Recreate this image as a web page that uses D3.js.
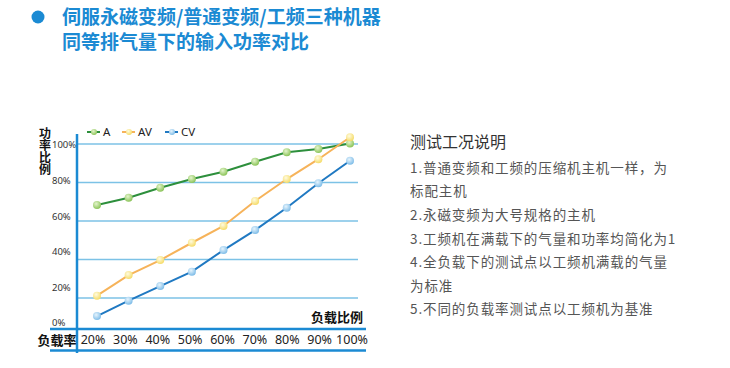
<!DOCTYPE html>
<html><head><meta charset="utf-8">
<script src="https://cdn.jsdelivr.net/npm/d3@7/dist/d3.min.js"></script>
<style>
html,body{margin:0;padding:0;background:#fff;}
svg{display:block;}
</style></head>
<body>
<svg id="c" width="730" height="368"></svg>
<script>
const categories = ["20%","30%","40%","50%","60%","70%","80%","90%","100%"];
const seriesA  = [68.3, 72.1, 77.3, 81.8, 85.6, 90.8, 95.7, 97.4, 100.3];
const seriesAV = [21.2, 31.9, 39.7, 48.7, 57.4, 70.4, 81.8, 92.1, 103.5];
const seriesCV = [10.6, 18.6, 26.2, 33.7, 44.9, 55.3, 66.9, 79.6, 91.3];
const seriesNames = ["A","AV","CV"];
const yTicks = [0,20,40,60,80,100];
const titleLines = ["伺服永磁变频/普通变频/工频三种机器","同等排气量下的输入功率对比"];
const yTitle = "功率比例";
const noteTitle = "测试工况说明";
const noteLines = ["1.普通变频和工频的压缩机主机一样，为","标配主机","2.永磁变频为大号规格的主机","3.工频机在满载下的气量和功率均简化为1","4.全负载下的测试点以工频机满载的气量","为标准","5.不同的负载率测试点以工频机为基准"];

const svg = d3.select("#c");
const blue = "#1b8ad3";
const grid = "#7cc2e6";
const colors = {A:{line:"#2d8f3c", hi:"#e4f5cc", lo:"#8cc45a"},
                AV:{line:"#f6b35a", hi:"#fffbe0", lo:"#f5dc6a"},
                CV:{line:"#2079c2", hi:"#e6f4fd", lo:"#7fbde8"}};
const data = {A:seriesA, AV:seriesAV, CV:seriesCV};

// gradients
const defs = svg.append("defs");
seriesNames.forEach(n=>{
  const g = defs.append("radialGradient").attr("id","g"+n).attr("cx","40%").attr("cy","35%").attr("r","65%");
  g.append("stop").attr("offset","0%").attr("stop-color",colors[n].hi);
  g.append("stop").attr("offset","100%").attr("stop-color",colors[n].lo);
});

// title
svg.append("circle").attr("cx",38).attr("cy",17).attr("r",6.5).attr("fill",blue);
svg.selectAll("text.title").data(titleLines).join("text")
  .attr("class","title").attr("x",62).attr("y",(d,i)=>24+i*25)
  .attr("font-family","'Noto Sans CJK SC'").attr("font-weight","bold")
  .attr("font-size",19).attr("fill",blue).text(d=>d);

// scales
const x = d3.scalePoint().domain(categories).range([97,350]);
const xLab = d3.scalePoint().domain(categories).range([93,352]);
const y = d3.scaleLinear().domain([0,100]).range([336.5,144]);
const yLab = d3.scaleLinear().domain([0,100]).range([323,145]);

// gridlines
svg.append("g").selectAll("line").data(yTicks.filter(d=>d>0)).join("line")
  .attr("x1",78).attr("x2",358).attr("y1",d=>y(d)).attr("y2",d=>y(d))
  .attr("stroke",grid).attr("stroke-width",1.4);

// y labels
svg.append("g").selectAll("text").data(yTicks).join("text")
  .attr("x",52).attr("y",d=>yLab(d)).attr("dy","0.35em")
  .attr("font-family","'Noto Sans','DejaVu Sans',sans-serif").attr("font-size",9.5).attr("fill","#333")
  .text(d=>d+"%");

// axes lines
svg.append("line").attr("x1",77).attr("x2",77).attr("y1",134).attr("y2",353).attr("stroke",blue).attr("stroke-width",2.5);
svg.append("line").attr("x1",50).attr("x2",366).attr("y1",329).attr("y2",329).attr("stroke",blue).attr("stroke-width",2.5);
svg.append("line").attr("x1",50).attr("x2",366).attr("y1",350.5).attr("y2",350.5).attr("stroke",blue).attr("stroke-width",2.5);

// y-axis title vertical
svg.append("text").attr("x",45).attr("y",127)
  .style("writing-mode","vertical-rl").style("text-orientation","upright")
  .attr("font-family","'Noto Sans CJK SC'").attr("font-weight","bold").attr("font-size",12).attr("fill","#111")
  .text(yTitle);

// x labels
svg.append("g").selectAll("text").data(categories).join("text")
  .attr("x",d=>xLab(d)).attr("y",340).attr("dy","0.35em").attr("text-anchor","middle")
  .attr("font-family","'Noto Sans','DejaVu Sans',sans-serif").attr("font-size",12.5).attr("fill","#222")
  .text(d=>d);
svg.append("text").attr("x",57).attr("y",340).attr("dy","0.35em").attr("text-anchor","middle")
  .attr("font-family","'Noto Sans CJK SC'").attr("font-weight","bold").attr("font-size",13).attr("fill","#111").text("负载率");
svg.append("text").attr("x",363).attr("y",322).attr("text-anchor","end")
  .attr("font-family","'Noto Sans CJK SC'").attr("font-weight","bold").attr("font-size",13).attr("fill","#111").text("负载比例");

// lines
const line = d3.line().x((d,i)=>x(categories[i])).y(d=>y(d));
seriesNames.forEach(n=>{
  svg.append("path").datum(data[n]).attr("d",line).attr("fill","none")
    .attr("stroke",colors[n].line).attr("stroke-width",2);
});
seriesNames.forEach(n=>{
  svg.append("g").selectAll("circle").data(data[n]).join("circle")
    .attr("cx",(d,i)=>x(categories[i])).attr("cy",d=>y(d)).attr("r",4)
    .attr("fill","url(#g"+n+")");
});

// legend
const legX = [87,122,165];
const leg = svg.append("g").selectAll("g").data(seriesNames).join("g")
  .attr("transform",(d,i)=>`translate(${legX[i]},132)`);
leg.append("line").attr("x1",0).attr("x2",13).attr("y1",0).attr("y2",0)
  .attr("stroke",d=>colors[d].line).attr("stroke-width",2);
leg.append("circle").attr("cx",7).attr("cy",0).attr("r",3).attr("fill",d=>"url(#g"+d+")");
leg.append("text").attr("x",16).attr("y",0).attr("dy","0.35em")
  .attr("font-family","'Noto Sans','DejaVu Sans',sans-serif").attr("font-size",11.5).attr("fill","#222").text(d=>d);

// notes
svg.append("text").attr("x",410).attr("y",142).attr("dy","0.35em")
  .attr("font-family","'Noto Sans CJK SC'").attr("font-size",16).attr("fill","#333").text(noteTitle);
svg.append("g").selectAll("text").data(noteLines).join("text")
  .attr("x",410).attr("y",(d,i)=>168+i*23.6).attr("dy","0.35em")
  .attr("font-family","'Noto Sans CJK SC'").attr("font-size",13.5).attr("letter-spacing",0.9).attr("fill","#555")
  .text(d=>d);
</script>
</body></html>
